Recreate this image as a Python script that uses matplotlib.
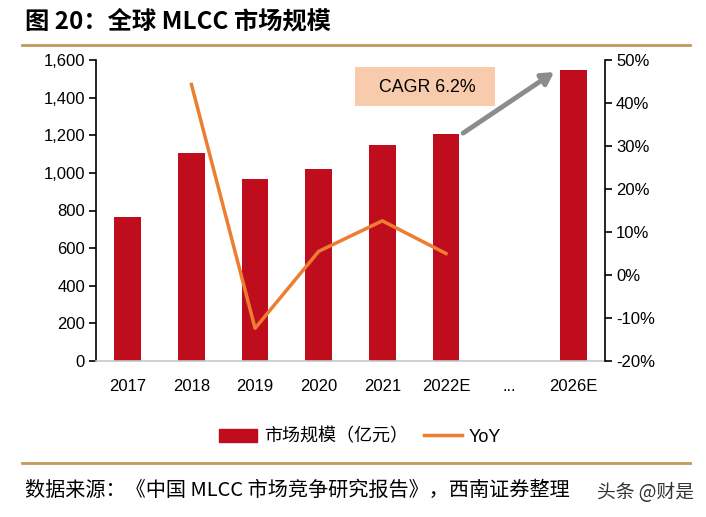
import matplotlib
matplotlib.use("Agg")
import matplotlib.pyplot as plt
from matplotlib.lines import Line2D
from matplotlib.patches import Patch, Rectangle
import numpy as np

plt.rcParams['font.family'] = ['Liberation Sans', 'Noto Sans CJK SC', 'DejaVu Sans']

categories = ["2017", "2018", "2019", "2020", "2021", "2022E", "...", "2026E"]
market_size = [765, 1105, 968, 1021, 1149, 1207, np.nan, 1548]
yoy = [np.nan, 44.3, -12.4, 5.5, 12.6, 5.0, np.nan, np.nan]

left_ticks = [0, 200, 400, 600, 800, 1000, 1200, 1400, 1600]
right_ticks = [-20, -10, 0, 10, 20, 30, 40, 50]

BAR = "#C00D1E"
LINE = "#ED7D31"
GOLD = "#C09A5B"

W, H = 706, 517
fig = plt.figure(figsize=(W / 100, H / 100), dpi=100)
ax = fig.add_axes([96 / W, 1 - 361 / H, (605 - 96) / W, (361 - 60) / H])
x = np.arange(len(categories))

ax.bar(x, market_size, width=0.42, color=BAR, zorder=2)
ax.set_xlim(-0.5, len(categories) - 0.5)
ax.set_ylim(0, 1600)
ax.set_yticks(left_ticks)
ax.set_yticklabels([f"{v:,}" for v in left_ticks])
ax.set_xticks(x)
ax.set_xticklabels(categories)
ax.tick_params(axis="x", length=0, pad=13, labelsize=12)
ax.tick_params(axis="y", length=5, width=1.2, labelsize=12, pad=3)
for s in ["top", "right"]:
    ax.spines[s].set_visible(False)
ax.spines["left"].set_linewidth(1.2)
ax.spines["bottom"].set_color("#C8C8C8")
ax.spines["bottom"].set_linewidth(1.2)

ax2 = ax.twinx()
ax2.plot(x, yoy, color=LINE, linewidth=2.5, zorder=3)
ax2.set_ylim(-20, 50)
ax2.set_yticks(right_ticks)
ax2.set_yticklabels([f"{v}%" for v in right_ticks])
ax2.tick_params(axis="y", length=5, width=1.2, labelsize=12, pad=3)
for s in ["top", "left", "bottom"]:
    ax2.spines[s].set_visible(False)
ax2.spines["right"].set_linewidth(1.2)

# CAGR box and arrow
fig.add_artist(Rectangle((355 / W, 1 - 106 / H), 140 / W, 39 / H,
                         transform=fig.transFigure, fc="#F8CBAD", ec="none", zorder=4))
fig.text(427 / W, 1 - 87 / H, "CAGR 6.2%", fontsize=12.8, ha="center", va="center", zorder=5)
ax2.annotate("", xy=(6.7, 47.2), xytext=(5.27, 33.0),
             arrowprops=dict(arrowstyle="-|>,head_length=0.7,head_width=0.4",
                             color="#8C8C8C", lw=3.5, shrinkA=0, shrinkB=0))

handles = [Patch(color=BAR), Line2D([0], [0], color=LINE, lw=2.5)]
fig.legend(handles, ["市场规模（亿元）", "YoY"], loc="center", bbox_to_anchor=(360 / W, 1 - 437 / H),
           ncol=2, frameon=False, fontsize=13, handlelength=2.1, handleheight=0.7,
           columnspacing=0.9, handletextpad=0.35)

# title, rules and source
fig.text(25 / W, 1 - 21 / H, "图 20：全球 MLCC 市场规模", fontsize=17.5, fontweight="bold",
         family=["Noto Sans CJK SC"], va="center", ha="left")
fig.add_artist(Line2D([22 / W, 690 / W], [1 - 45 / H] * 2, color=GOLD, lw=2))
fig.add_artist(Line2D([22 / W, 690 / W], [1 - 463 / H] * 2, color=GOLD, lw=2))
fig.text(25 / W, 1 - 490 / H, "数据来源：《中国 MLCC 市场竞争研究报告》，西南证券整理",
         fontsize=14.5, family=["Noto Sans CJK SC"], va="center", ha="left", style="italic")
fig.text(597 / W, 1 - 492 / H, "头条 @财是", fontsize=13.5, family=["Noto Sans CJK SC"],
         va="center", ha="left", color="#333333")

fig.savefig("out.png", dpi=100)
